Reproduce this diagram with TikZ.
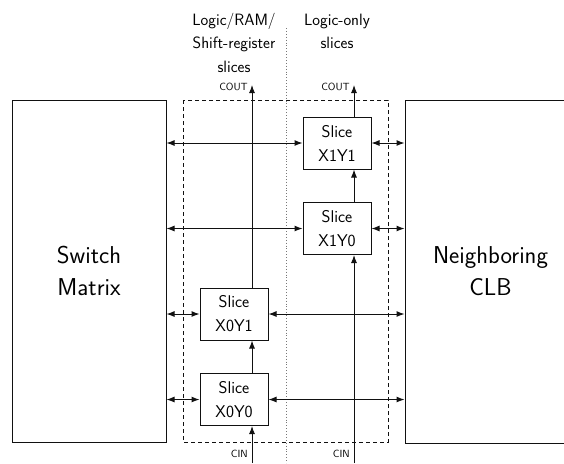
\documentclass[tikz,border=0pt]{standalone}
\usepackage{fontspec}
\usepackage{tikz}
\usetikzlibrary{positioning,arrows.meta,calc}
\definecolor{CLBLine}{HTML}{111111}
\definecolor{CLBGrey}{HTML}{777777}
\tikzset{
  clbbig/.style={
    rectangle,
    draw=CLBLine,
    line width=1pt,
    fill=white,
    align=center,
    inner sep=0pt,
    font=\sffamily\fontsize{24.4}{32}\selectfont
  },
  clbslice/.style={
    rectangle,
    draw=CLBLine,
    line width=1pt,
    fill=white,
    align=center,
    inner sep=0pt,
    minimum width=68pt,
    minimum height=52pt,
    font=\sffamily\fontsize{17}{24}\selectfont
  },
  clbhead/.style={font=\sffamily\fontsize{16.4}{23.5}\selectfont,align=center,inner sep=0pt},
  clbpin/.style={font=\sffamily\fontsize{10.4}{12}\selectfont,inner sep=0pt},
  clbcarry/.style={-{Latex[length=8pt,width=6pt]},line width=1pt,draw=CLBLine},
  clbbus/.style={{Latex[length=8pt,width=6pt]}-{Latex[length=8pt,width=6pt]},line width=1pt,draw=CLBLine},
  clbgroup/.style={draw=CLBLine,dashed,dash pattern=on 4pt off 3pt,line width=0.9pt},
  clbdivide/.style={draw=CLBGrey,dotted,line width=0.9pt},
}
\begin{document}
\begin{tikzpicture}[x=1pt,y=-1pt]
  \useasboundingbox (0,0) rectangle (564,463);
  \clip (0,0) rectangle (564,463);

  % outer blocks
  \node[clbbig,minimum width=154pt,minimum height=342pt] (sw) at (89,271) {Switch\\Matrix};
  \node[clbbig,minimum width=171pt,minimum height=343pt] (clb) at (490.5,271.5) {Neighboring\\CLB};

  % slice column boundary
  \draw[clbgroup] (183,100) rectangle (388,442);
  \draw[clbdivide] (286,28) -- (286,463);

  % slices
  \node[clbslice] (x0y0) at (234,399.5) {Slice\\X0Y0};
  \node[clbslice] (x0y1) at (234,314) {Slice\\X0Y1};
  \node[clbslice] (x1y0) at (337,228.5) {Slice\\X1Y0};
  \node[clbslice] (x1y1) at (337,143) {Slice\\X1Y1};

  % column headings
  \node[clbhead,anchor=north] (headL) at (234,12.7) {Logic/RAM/\\Shift-register\\slices};
  \node[clbhead,anchor=north] (headR) at (337,13.6) {Logic-only\\slices};

  % carry chain ends
  \coordinate (cin0) at (252,463);
  \coordinate (cout0) at (252,85);
  \coordinate (cin1) at (354,463);
  \coordinate (cout1) at (354,85);
  \node[clbpin,anchor=base east] at (248,90.5) {COUT};
  \node[clbpin,anchor=base east] at (350,90.5) {COUT};
  \node[clbpin,anchor=base east] at (248,457) {CIN};
  \node[clbpin,anchor=base east] at (350,457) {CIN};

  % carry chains
  \draw[clbcarry] (cin0) -- (x0y0.south -| cin0);
  \draw[clbcarry] (x0y0.north -| cin0) -- (x0y1.south -| cin0);
  \draw[clbcarry] (x0y1.north -| cin0) -- (cout0);
  \draw[clbcarry] (cin1) -- (x1y0.south -| cin1);
  \draw[clbcarry] (x1y0.north -| cin1) -- (x1y1.south -| cin1);
  \draw[clbcarry] (x1y1.north -| cin1) -- (cout1);

  % routing to switch matrix and neighbour
  \foreach \sliceName in {x0y0,x0y1,x1y0,x1y1} {
    \draw[clbbus] (sw.east |- \sliceName) -- (\sliceName.west);
    \draw[clbbus] (\sliceName.east) -- (clb.west |- \sliceName);
  }
\end{tikzpicture}
\end{document}
